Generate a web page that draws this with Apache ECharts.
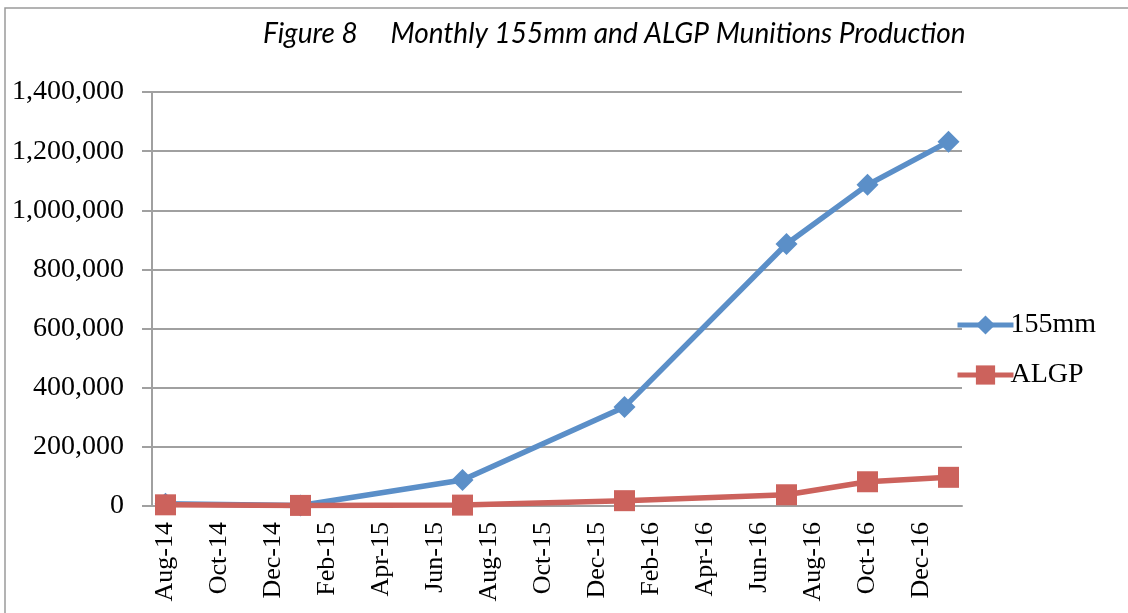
<!DOCTYPE html>
<html>
<head>
<meta charset="utf-8">
<title>Monthly 155mm and ALGP Munitions Production</title>
<script src="https://cdn.jsdelivr.net/npm/echarts@6/dist/echarts.min.js"></script>
<style>
  html, body { margin: 0; padding: 0; background: #fff; }
  #chart { width: 1128px; height: 613px; }
</style>
</head>
<body>
<div id="chart"></div>
<script>
// monthly categories, Aug-14 .. Jan-17 (only every second one is labelled)
const months = [
  'Aug-14', 'Sep-14', 'Oct-14', 'Nov-14', 'Dec-14', 'Jan-15',
  'Feb-15', 'Mar-15', 'Apr-15', 'May-15', 'Jun-15', 'Jul-15',
  'Aug-15', 'Sep-15', 'Oct-15', 'Nov-15', 'Dec-15', 'Jan-16',
  'Feb-16', 'Mar-16', 'Apr-16', 'May-16', 'Jun-16', 'Jul-16',
  'Aug-16', 'Sep-16', 'Oct-16', 'Nov-16', 'Dec-16', 'Jan-17'
];

// values; null = no reading that month
const rounds155 = [
  8000, null, null, null, null, 2000,
  null, null, null, null, null, 88000,
  null, null, null, null, null, 335000,
  null, null, null, null, null, 886000,
  null, null, 1086000, null, null, 1232000
];
const roundsAlgp = [
  4000, null, null, null, null, 2000,
  null, null, null, null, null, 3000,
  null, null, null, null, null, 18000,
  null, null, null, null, null, 38000,
  null, null, 82000, null, null, 97000
];

const yTicks = [0, 200000, 400000, 600000, 800000, 1000000, 1200000, 1400000];

const chart = echarts.init(document.getElementById('chart'));
const serif = '"Liberation Serif", "DejaVu Serif", serif';
const gridGrey = '#a0a0a0';

chart.setOption({
  animation: false,
  backgroundColor: '#fff',
  graphic: [{
    type: 'rect',
    shape: { x: 5, y: 8, width: 1140, height: 620 },
    style: { fill: 'none', stroke: '#9a9a9a', lineWidth: 1.5 },
    silent: true
  }],
  title: {
    text: 'Figure 8     Monthly 155mm and ALGP Munitions Production',
    left: 258,
    top: 15,
    textStyle: {
      fontFamily: 'Lato, "Open Sans", sans-serif',
      fontStyle: 'italic',
      fontWeight: 'normal',
      fontSize: 28,
      color: '#000'
    }
  },
  legend: {
    orient: 'vertical',
    left: 950,
    top: 306,
    itemWidth: 56,
    itemHeight: 24,
    itemGap: 22,
    data: ['155mm', 'ALGP'],
    lineStyle: { width: 5 },
    textStyle: { fontFamily: serif, fontSize: 28, color: '#000', padding: [0, 0, 0, -8] }
  },
  grid: { left: 152, right: 166, top: 92, bottom: 107 },
  xAxis: {
    type: 'category',
    data: months,
    boundaryGap: true,
    axisLine: { lineStyle: { color: gridGrey, width: 2 } },
    axisTick: { interval: 1, length: 8, lineStyle: { color: gridGrey, width: 2 } },
    axisLabel: {
      interval: 1,
      rotate: 90,
      margin: 16,
      fontFamily: serif,
      fontSize: 26,
      color: '#000'
    }
  },
  yAxis: {
    type: 'value',
    min: yTicks[0],
    max: yTicks[yTicks.length - 1],
    interval: yTicks[1] - yTicks[0],
    axisLine: { show: true, lineStyle: { color: gridGrey, width: 2 } },
    axisTick: { show: true, length: 10, lineStyle: { color: gridGrey, width: 2 } },
    splitLine: { lineStyle: { color: gridGrey, width: 2 } },
    axisLabel: {
      margin: 28,
      fontFamily: serif,
      fontSize: 28,
      color: '#000',
      formatter: v => v.toLocaleString('en-US')
    }
  },
  series: [
    {
      name: '155mm',
      type: 'line',
      data: rounds155,
      connectNulls: true,
      showAllSymbol: true,
      symbol: 'diamond',
      symbolSize: 22,
      color: '#5b8fc8',
      lineStyle: { width: 5.5, color: '#5b8fc8' },
      itemStyle: { color: '#5b8fc8' }
    },
    {
      name: 'ALGP',
      type: 'line',
      data: roundsAlgp,
      connectNulls: true,
      showAllSymbol: true,
      symbol: 'rect',
      symbolSize: 21,
      color: '#cc625c',
      lineStyle: { width: 5.5, color: '#cc625c' },
      itemStyle: { color: '#cc625c' }
    }
  ]
});
</script>
</body>
</html>
